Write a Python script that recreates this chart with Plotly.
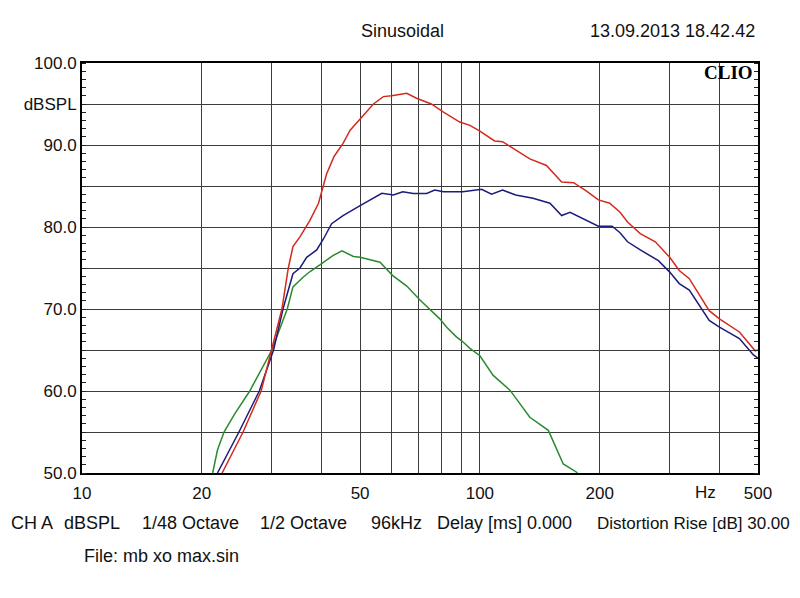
import math
import plotly.graph_objects as go

# ---- data ----
red_freq = [22.5, 25.4, 28.2, 30.0, 31.8, 33.0, 33.9, 35.3, 36.6, 37.4, 39.3, 40.2, 41.2, 43.0,
            45.3, 47.2, 50.0, 54.0, 57.2, 60.0, 65.5, 69.3, 75.5, 81.0, 89.0, 94.4, 100.0,
            108.9, 114.0, 133.5, 147.0, 160.5, 172.0, 185.0, 198.5, 208.0, 212.0, 225.0,
            235.0, 253.0, 276.0, 300.0, 317.0, 336.0, 377.0, 400.0, 449.0, 492.0, 500.0]
red_db = [50.0, 55.0, 60.0, 65.0, 70.0, 75.0, 77.6, 78.8, 80.0, 80.8, 82.9, 84.5, 86.5, 88.6,
          90.2, 91.8, 93.2, 95.0, 95.9, 96.0, 96.3, 95.7, 95.0, 94.0, 92.8, 92.4, 91.7,
          90.5, 90.4, 88.3, 87.5, 85.5, 85.4, 84.4, 83.3, 83.0, 82.9, 81.8,
          80.6, 79.2, 78.2, 76.3, 74.7, 73.7, 69.8, 68.8, 67.2, 64.9, 65.0]

blue_freq = [21.9, 24.8, 27.9, 30.3, 32.0, 33.9, 35.3, 36.7, 38.9, 40.5, 42.4, 45.3, 50.0, 56.7,
             60.6, 64.0, 68.0, 73.5, 77.0, 81.0, 90.6, 94.4, 101.0, 107.0, 114.0, 123.0, 136.0,
             150.0, 160.5, 168.5, 186.0, 198.5, 210.0, 215.0, 225.0, 235.0, 253.0, 281.0,
             300.0, 317.0, 336.0, 377.0, 400.0, 449.0, 487.0, 500.0]
blue_db = [50.0, 55.0, 60.0, 65.0, 70.0, 74.3, 75.0, 76.3, 77.2, 78.6, 80.4, 81.4, 82.6, 84.1,
           83.9, 84.3, 84.1, 84.1, 84.5, 84.3, 84.3, 84.4, 84.6, 84.0, 84.5, 83.9, 83.5,
           82.9, 81.4, 81.8, 80.8, 80.1, 80.1, 80.1, 79.3, 78.2, 77.2, 75.9,
           74.5, 73.1, 72.3, 68.6, 67.8, 66.4, 64.4, 64.0]

green_freq = [21.3, 21.9, 22.75, 24.2, 26.4, 30.0, 32.8, 33.9, 36.0, 37.5, 39.7, 42.7, 45.0, 48.1,
              50.0, 52.0, 56.1, 60.3, 65.5, 70.7, 76.3, 79.3, 82.4, 87.3, 90.6, 94.4, 100.0,
              108.0, 119.0, 133.5, 148.6, 162.0, 175.0, 178.0]
green_db = [50.0, 52.8, 55.0, 57.2, 60.0, 65.0, 70.0, 72.7, 73.9, 74.6, 75.4, 76.5, 77.1, 76.4,
            76.3, 76.1, 75.7, 74.1, 72.8, 71.1, 69.6, 68.8, 67.8, 66.6, 66.0, 65.2, 64.3,
            61.9, 60.1, 56.8, 55.2, 51.1, 50.1, 49.5]

x_tickvals = [10, 20, 30, 40, 50, 60, 70, 80, 90, 100, 200, 300, 400, 500]
x_ticktext = ["10", "20", "", "", "50", "", "", "", "", "100", "200", "", "", "500"]
y_tickvals = [50, 55, 60, 65, 70, 75, 80, 85, 90, 95, 100]
y_ticktext = ["50.0", "", "60.0", "", "70.0", "", "80.0", "", "90.0", "dBSPL", "100.0"]

bottom_items = ["CH A", "dBSPL", "1/48 Octave", "1/2 Octave", "96kHz",
                "Delay [ms] 0.000", "Distortion Rise [dB] 30.00"]
bottom_x_px = [8.5, 62, 140, 258, 369, 435, 595]
bottom_sizes = [18, 18, 18, 18, 18, 18, 17]

# ---- layout geometry (page pixels; the page body has an 8px margin) ----
OFF = 8
W, H = 800 - OFF, 598 - OFF
L, R, T, B = 82, 758, 63, 473
PW, PH = R - L, B - T


def px(x):
    return (x - L) / PW


def py(y):
    return (B - y) / PH


FONT = "Liberation Sans, Arial, sans-serif"

fig = go.Figure()
fig.add_trace(go.Scatter(x=green_freq, y=green_db, mode="lines",
                         line=dict(color="#2b8a2f", width=1.5), showlegend=False))
fig.add_trace(go.Scatter(x=blue_freq, y=blue_db, mode="lines",
                         line=dict(color="#1c1c7a", width=1.5), showlegend=False))
fig.add_trace(go.Scatter(x=red_freq, y=red_db, mode="lines",
                         line=dict(color="#d42a1e", width=1.5), showlegend=False))

fig.update_xaxes(type="log", range=[1, math.log10(500)],
                 tickvals=x_tickvals, ticktext=x_ticktext,
                 showgrid=True, gridcolor="#3c3c3c", gridwidth=1,
                 showline=True, linecolor="black", linewidth=2, mirror=True,
                 ticks="", zeroline=False, ticklabelstandoff=4,
                 tickfont=dict(family=FONT, size=17, color="#111"))
fig.update_yaxes(range=[50, 100],
                 tickvals=y_tickvals, ticktext=y_ticktext,
                 showgrid=True, gridcolor="#3c3c3c", gridwidth=1,
                 showline=True, linecolor="black", linewidth=2, mirror="allticks",
                 ticks="", zeroline=False,
                 minor=dict(dtick=1, ticks="inside", ticklen=4, tickcolor="#222",
                            tickwidth=1, showgrid=False),
                 tickfont=dict(family=FONT, size=17, color="#111"))

ann = []
ann.append(dict(text="Sinusoidal", x=px(402), y=py(31), xanchor="center", yanchor="middle",
                font=dict(family=FONT, size=18, color="#111")))
ann.append(dict(text="13.09.2013 18.42.42", x=px(757), y=py(31), xanchor="right", yanchor="middle",
                font=dict(family=FONT, size=18, color="#111")))
ann.append(dict(text="Hz", x=px(705), y=py(492), xanchor="center", yanchor="middle",
                font=dict(family=FONT, size=17, color="#111")))
for t, xp, fs in zip(bottom_items, bottom_x_px, bottom_sizes):
    ann.append(dict(text=t, x=px(xp), y=py(523), xanchor="left", yanchor="middle",
                    font=dict(family=FONT, size=fs, color="#111")))
ann.append(dict(text="File: mb xo max.sin", x=px(82), y=py(556), xanchor="left", yanchor="middle",
                font=dict(family=FONT, size=18, color="#111")))
ann.append(dict(text="<b>CLIO</b>", x=px(755), y=py(72.5),
                xanchor="right", yanchor="middle",
                font=dict(family="Liberation Serif, Times New Roman, serif", size=19, color="black")))
for a in ann:
    a.update(xref="paper", yref="paper", showarrow=False)

fig.update_layout(width=W, height=H,
                  margin=dict(l=L - OFF, r=W - (R - OFF), t=T - OFF, b=H - (B - OFF), pad=0),
                  paper_bgcolor="white", plot_bgcolor="white", annotations=ann)

fig.write_html("out.html")
